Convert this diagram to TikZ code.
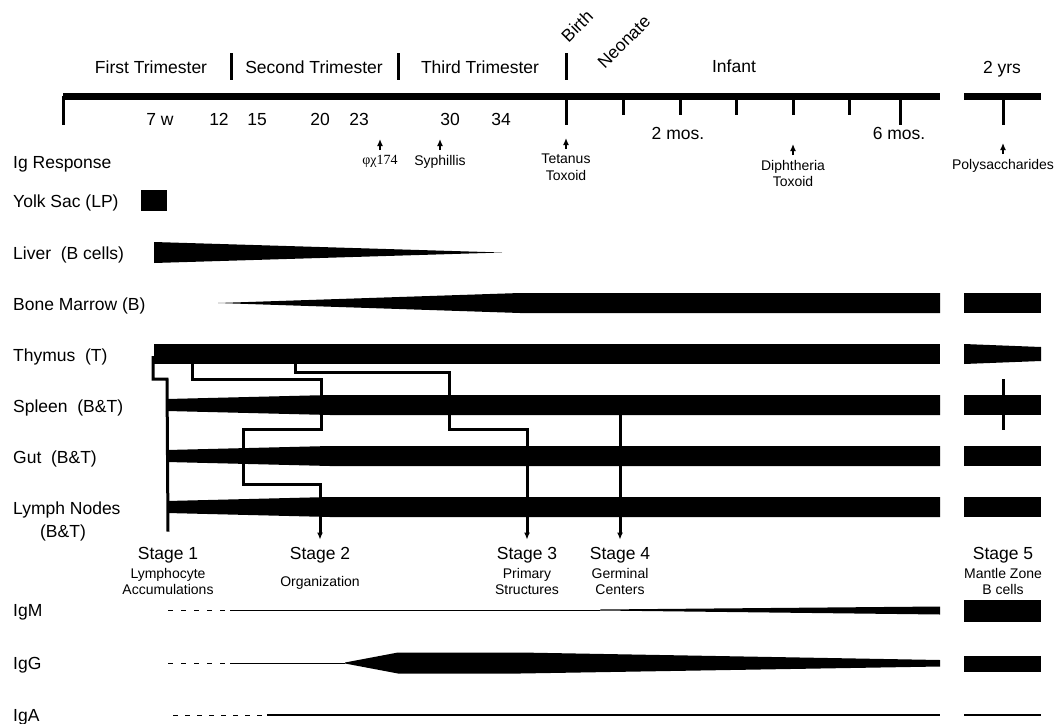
\documentclass[tikz,border=0pt]{standalone}
\usepackage{fontspec}
\setmainfont{Liberation Sans}
\newfontfamily\greekfont{Liberation Serif}
\usetikzlibrary{arrows.meta,positioning}

\begin{document}
\begin{tikzpicture}[x=1pt,y=-1pt,>={Latex[length=7pt,width=6pt]}]
\tikzset{
  big/.style={font=\fontsize{17.5}{20}\selectfont,inner sep=0pt,anchor=base},
  small/.style={font=\fontsize{14}{16.5}\selectfont,inner sep=0pt,align=center,anchor=north},
  organ/.style={big,anchor=base west},
  tickmark/.style={line width=3pt},
  link/.style={line width=3pt},
  resp/.style={->,line width=1.3pt},
  early/.style={line width=1pt,dash pattern=on 5pt off 8pt}
}
\useasboundingbox (0,0) rectangle (1055,723);

% periods
\node[big] (first) at (151,73) {First Trimester};
\node[big] (second) at (314,73) {Second Trimester};
\node[big] (third) at (480,73) {Third Trimester};
\node[big] (infant) at (734,72) {Infant};
\node[big] (twoyrs) at (1002,73) {2 yrs};
\node[big,anchor=center,rotate=45] (birth) at (577,26) {Birth};
\node[big,anchor=center,rotate=45] (neonate) at (624,42) {Neonate};
\foreach \x in {231,398,566} \draw[tickmark] (\x,53) -- (\x,80);

% time axis
\fill (63,93) rectangle (940,100);
\fill (964,93) rectangle (1041,100);
\foreach \x in {63,566,900,1003} \draw[tickmark] (\x,96) -- (\x,125);
\foreach \x in {623,680,736,793,849} \draw[tickmark] (\x,96) -- (\x,115);
\foreach \x/\w in {160/7 w,219/12,257/15,320/20,359/23,450/30,501/34}
  \node[big] (wk\x) at (\x,125) {\w};
\node[big] (twomos) at (678,139) {2 mos.};
\node[big] (sixmos) at (899,139) {6 mos.};

% ig response
\node[organ] (igresp) at (13,168) {Ig Response};
\node[small,font=\greekfont\fontsize{14}{16.5}\selectfont] (phichi) at (380,155) {φχ174};
\node[small] (syph) at (440,155) {Syphillis};
\node[small] (tetanus) at (566,154) {Tetanus\\Toxoid};
\node[small] (diph) at (793,160) {Diphtheria\\Toxoid};
\node[small] (poly) at (1003,159) {Polysaccharides};
\foreach \n in {phichi,syph,tetanus,diph,poly}
  \draw[resp] ([yshift=5pt]\n.north) -- ++(0,-11);

% organs
\node[organ] (yolk) at (13,207) {Yolk Sac (LP)};
\node[organ] (liver) at (13,259) {Liver\ \ (B cells)};
\node[organ] (marrow) at (13,310) {Bone Marrow\ (B)};
\node[organ] (thymus) at (13,361) {Thymus\ \ (T)};
\node[organ] (spleen) at (13,412) {Spleen\ \ (B\&T)};
\node[organ] (gut) at (13,463) {Gut\ \ (B\&T)};
\node[organ] (lymph) at (13,514) {Lymph Nodes};
\node[big] (lymphbt) at (63,537) {(B\&T)};

% stages
\node[big] (s1) at (168,559) {Stage 1};
\node[small,below=5pt of s1] (s1t) {Lymphocyte\\Accumulations};
\node[big] (s2) at (320,559) {Stage 2};
\node[small,below=13pt of s2] (s2t) {Organization};
\node[big] (s3) at (527,559) {Stage 3};
\node[small,below=5pt of s3] (s3t) {Primary\\Structures};
\node[big] (s4) at (620,559) {Stage 4};
\node[small,below=5pt of s4] (s4t) {Germinal\\Centers};
\node[big] (s5) at (1003,559) {Stage 5};
\node[small,below=5pt of s5] (s5t) {Mantle Zone\\B cells};

% migration paths
\draw[link] (153,356) |- (167,379) -- ([yshift=15pt]s1.north);
\draw[link,->] (192,356) |- (321,379) |- (243,429) |- (320,484) -- ([yshift=7pt]s2.north);
\draw[link,->] (295,356) |- (449,372) |- (527,429) -- ([yshift=7pt]s3.north);
\draw[link,->] (620,410) -- ([yshift=7pt]s4.north);
\draw[link] (1003,379) -- (1003,430);

% organ bars
\fill (141,190) rectangle (167,211);
\fill (154,242) -- (502,252.5) -- (154,263) -- cycle;
\fill (218,303) -- (520,293) -- (940,293) -- (940,313) -- (520,313) -- cycle;
\fill (154,344) rectangle (940,364);
\fill (964,344) -- (1041,347) -- (1041,361) -- (964,364) -- cycle;
\foreach \y in {405,456,507} {
  \fill (167,\y-6) -- (330,\y-10) -- (940,\y-10) -- (940,\y+10) -- (330,\y+10) -- (167,\y+6) -- cycle;
  \fill (964,\y-10) rectangle (1041,\y+10);
}
\fill (964,293) rectangle (1041,313);

% immunoglobulins
\node[organ] (igm) at (13,616) {IgM};
\node[organ] (igg) at (13,669) {IgG};
\node[organ] (iga) at (13,721) {IgA};
\draw[early] (168,610) -- (230,610);
\draw[line width=1pt] (230,610) -- (600,610);
\fill (600,609.5) -- (940,606.5) -- (940,614.5) -- (600,610.5) -- cycle;
\fill (964,600) rectangle (1041,622);
\draw[early] (168,663) -- (230,663);
\draw[line width=1pt] (230,663) -- (345,663);
\fill (345,662.5) -- (398,652.5) -- (520,652.5) -- (940,660) -- (940,666.5) -- (520,673.5) -- (398,673.5) -- (345,663.5) -- cycle;
\fill (964,656) rectangle (1041,672);
\draw[early,dash pattern=on 5pt off 7pt] (173,715) -- (267,715);
\draw[line width=1.3pt] (267,715) -- (940,715);
\draw[line width=2pt] (964,715) -- (1041,715);
\end{tikzpicture}
\end{document}
